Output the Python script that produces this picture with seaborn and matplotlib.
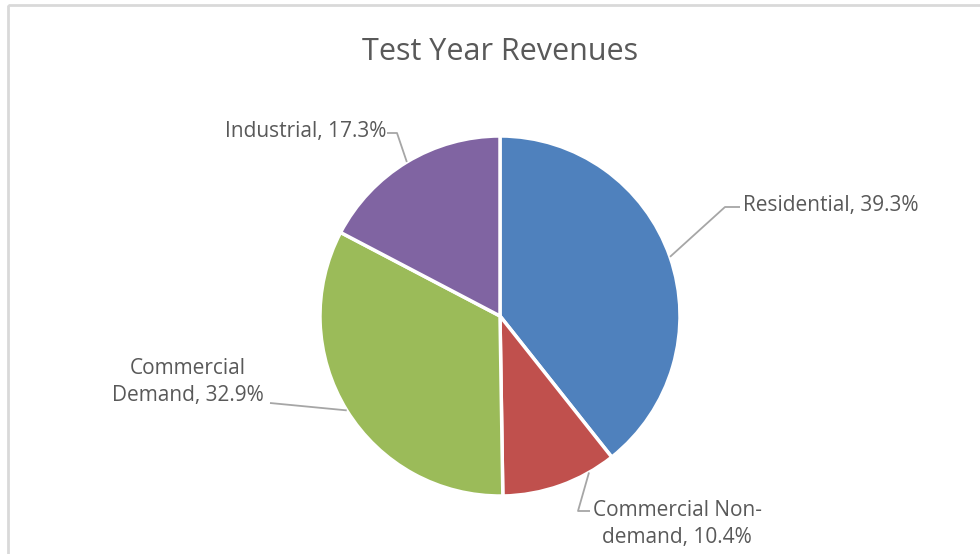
import numpy as np
import matplotlib
matplotlib.use("Agg")
import matplotlib.pyplot as plt
import seaborn as sns
from matplotlib.patches import Rectangle

sns.set_theme(style="white")
plt.rcParams['font.family'] = ['Open Sans', 'DejaVu Sans']

title = "Test Year Revenues"
categories = ["Residential", "Commercial Non-\ndemand", "Commercial\nDemand", "Industrial"]
values = [39.3, 10.4, 32.9, 17.3]
colors = ["#4F81BD", "#C0504D", "#9BBB59", "#8064A2"]

W, H = 980, 554
fig = plt.figure(figsize=(W / 100, H / 100), dpi=100)
ax = fig.add_axes([0, 0, 1, 1])

cx, cy, R = 500, 316, 180
# y axis is inverted below, so data angles are mirrored: start at -90, go counterclockwise in data
wedges, _ = ax.pie(values, colors=colors, startangle=-90, counterclock=True,
                   center=(cx, cy), radius=R, frame=True,
                   wedgeprops=dict(edgecolor="white", linewidth=2.5))
ax.set_xlim(0, W)
ax.set_ylim(H, 0)
ax.set_aspect("equal")
ax.axis("off")

# frame
ax.add_patch(Rectangle((8, 5), 1000, 600, fill=False, edgecolor="#d9d9d9", linewidth=2))

ax.text(cx, 52, title, ha="center", va="center", fontsize=22, color="#595959")

lab_txt = [f"{c}, {v}%" for c, v in zip(categories, values)]
label_specs = [
    dict(pos=(743, 205), ha="left", path=[(725, 207), (740, 207)]),
    dict(pos=(677, 524), ha="center", path=[(578, 511), (590, 511)]),
    dict(pos=(188, 382), ha="center", path=[(270, 403)]),
    dict(pos=(386, 132), ha="right", path=[(397, 133), (387, 133)]),
]
cum = np.cumsum([0] + values)
tot = sum(values)
offsets = [0, 10, 0, 0]
for i, spec in enumerate(label_specs):
    mid = 90 - (cum[i] + values[i] / 2) / tot * 360 + offsets[i]
    sx = cx + R * np.cos(np.radians(mid))
    sy = cy - R * np.sin(np.radians(mid))
    xs = [sx] + [p[0] for p in spec["path"]]
    ys = [sy] + [p[1] for p in spec["path"]]
    ax.plot(xs, ys, color="#a6a6a6", linewidth=1.3, solid_capstyle="butt")
    ax.text(spec["pos"][0], spec["pos"][1], lab_txt[i], ha=spec["ha"], va="center",
            fontsize=15, color="#595959", linespacing=1.42,
            multialignment="center")

fig.savefig("out.png", dpi=100, facecolor="white")
